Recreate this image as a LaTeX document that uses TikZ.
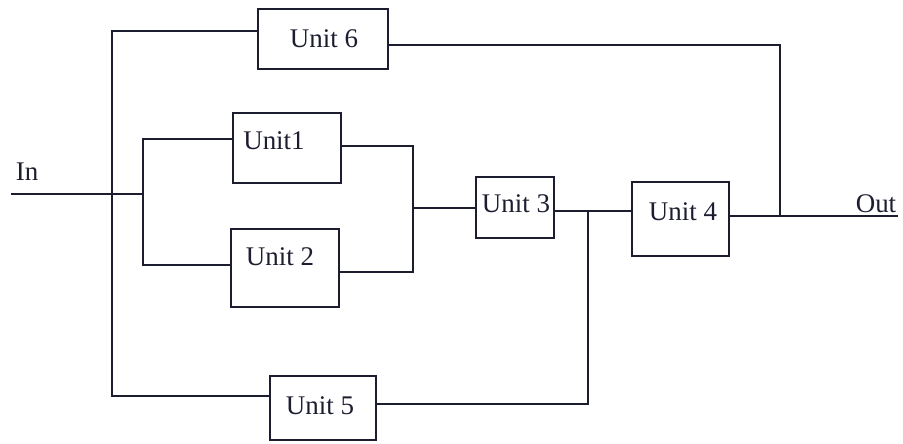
\documentclass[tikz,border=0pt]{standalone}
\usepackage{fontspec}
\setmainfont{Liberation Serif}
\definecolor{ink}{RGB}{28,30,48}
\begin{document}
\begin{tikzpicture}[x=0.03cm,y=-0.03cm,
  unitbox/.style={draw=ink,line width=1.4pt,inner sep=0pt},
  lbl/.style={inner sep=0pt,text=ink,font=\fontsize{23}{26}\selectfont},
  wire/.style={draw=ink,line width=1.4pt}]
\useasboundingbox (0,0) rectangle (903,443);
% boxes
\node[unitbox,minimum width=130*0.03cm,minimum height=60*0.03cm] (u6) at (323,39) {};
\node[unitbox,minimum width=108*0.03cm,minimum height=70*0.03cm] (u1) at (287,148) {};
\node[unitbox,minimum width=108*0.03cm,minimum height=78*0.03cm] (u2) at (285,268) {};
\node[unitbox,minimum width=78*0.03cm,minimum height=61*0.03cm] (u3) at (515,207.5) {};
\node[unitbox,minimum width=97*0.03cm,minimum height=74*0.03cm] (u4) at (680.5,219) {};
\node[unitbox,minimum width=106*0.03cm,minimum height=64*0.03cm] (u5) at (323,408) {};
% labels
\node[lbl] (t6) at (324,39) {Unit 6};
\node[lbl] (t1) at (274,141) {Unit1};
\node[lbl] (t2) at (280,257) {Unit 2};
\node[lbl] (t3) at (516,204) {Unit 3};
\node[lbl] (t4) at (683,212) {Unit 4};
\node[lbl] (t5) at (320,406) {Unit 5};
\node[lbl] (tin) at (27,172) {In};
\node[lbl] (tout) at (876,204) {Out};
% coordinates
\coordinate (inL) at (11,194);
\coordinate (jin) at (143,194);
\coordinate (bL1) at (143,139);
\coordinate (bL2) at (143,265);
\coordinate (bR1) at (413,146);
\coordinate (bR2) at (413,272);
\coordinate (jmid) at (413,208);
\coordinate (j3) at (588,211);
\coordinate (b5R) at (588,404);
\coordinate (topL) at (112,31);
\coordinate (b5L) at (112,396);
\coordinate (topR) at (780,45);
\coordinate (jout) at (780,216);
\coordinate (outR) at (898,216);
% wires
\draw[wire] (inL) -- (jin);
\draw[wire] (u1.west |- bL1) -- (bL1) -- (bL2) -- (u2.west |- bL2);
\draw[wire] (u1.east |- bR1) -- (bR1) -- (bR2) -- (u2.east |- bR2);
\draw[wire] (jmid) -- (u3.west |- jmid);
\draw[wire] (u3.east |- j3) -- (j3) -- (u4.west |- j3);
\draw[wire] (u5.east |- b5R) -- (b5R) -- (j3);
\draw[wire] (u6.west |- topL) -- (topL) -- (b5L) -- (u5.west |- b5L);
\draw[wire] (u6.east |- topR) -- (topR) -- (jout);
\draw[wire] (u4.east |- jout) -- (outR);
\end{tikzpicture}
\end{document}
